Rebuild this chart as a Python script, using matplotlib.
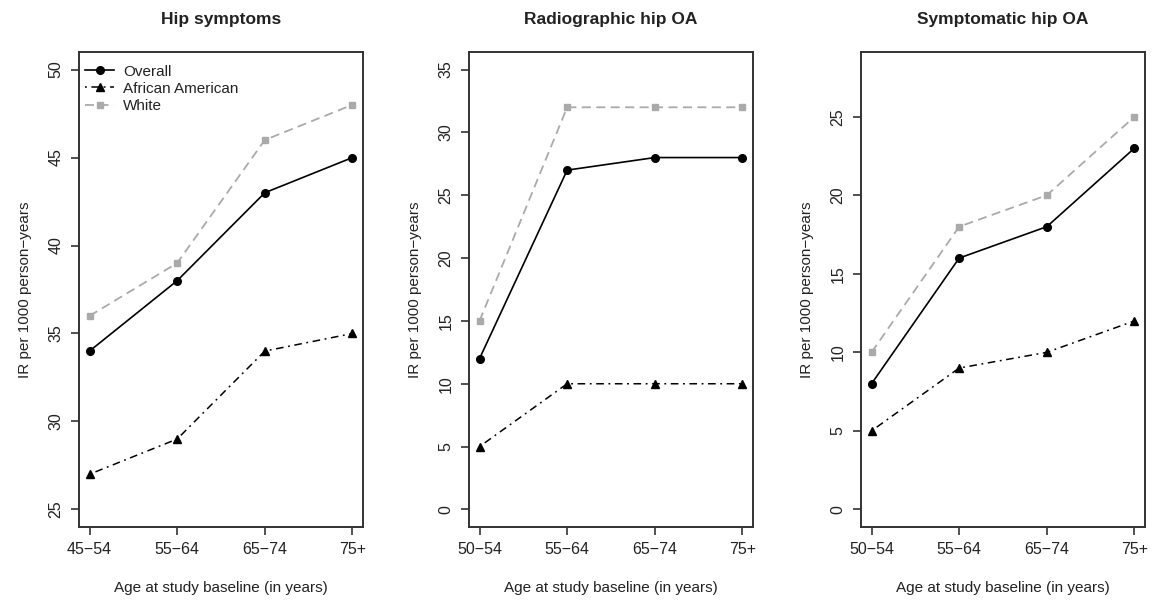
import matplotlib.pyplot as plt

plt.rcParams["font.family"] = ["Liberation Sans", "DejaVu Sans"]

# Data
titles = ["Hip symptoms", "Radiographic hip OA", "Symptomatic hip OA"]
age_labels_1 = ["45\u221254", "55\u221264", "65\u221274", "75+"]
age_labels_23 = ["50\u221254", "55\u221264", "65\u221274", "75+"]

overall_1 = [34, 38, 43, 45]
african_american_1 = [27, 29, 34, 35]
white_1 = [36, 39, 46, 48]

overall_2 = [12, 27, 28, 28]
african_american_2 = [5, 10, 10, 10]
white_2 = [15, 32, 32, 32]

overall_3 = [8, 16, 18, 23]
african_american_3 = [5, 9, 10, 12]
white_3 = [10, 18, 20, 25]

panels = [
    (titles[0], age_labels_1, overall_1, african_american_1, white_1, (25, 50), [25, 30, 35, 40, 45, 50]),
    (titles[1], age_labels_23, overall_2, african_american_2, white_2, (0, 35), [0, 5, 10, 15, 20, 25, 30, 35]),
    (titles[2], age_labels_23, overall_3, african_american_3, white_3, (0, 28), [0, 5, 10, 15, 20, 25]),
]

W, H = 1157, 604
fig = plt.figure(figsize=(W / 100, H / 100), dpi=100)

lefts = [79, 469, 861]
top, bottom = 52, 527
width = 284

grey = "#aaaaaa"
ink = "#222222"

for i, (title, labels, ov, aa, wh, (lo, hi), yticks) in enumerate(panels):
    ax = fig.add_axes([lefts[i] / W, 1 - bottom / H, width / W, (bottom - top) / H])
    x = list(range(1, len(labels) + 1))

    ax.plot(x, wh, color=grey, lw=1.3, linestyle=(0, (5, 3)), marker="s", ms=4.5,
            label="White", zorder=2)
    ax.plot(x, aa, color="black", lw=1.1, linestyle=(0, (1.2, 3, 5, 3)), marker="^", ms=5.5,
            label="African American", zorder=3)
    ax.plot(x, ov, color="black", lw=1.2, linestyle="-", marker="o", ms=5.5,
            label="Overall", zorder=4)

    # R-style 4% axis padding
    pad = (hi - lo) * 0.04
    ax.set_ylim(lo - pad, hi + pad)
    ax.set_xlim(1 - 0.12, 4 + 0.12)
    ax.set_xticks(x)
    ax.set_xticklabels(labels)
    ax.set_yticks(yticks)
    ax.set_yticklabels([str(v) for v in yticks], rotation=90, va="center")

    for s in ax.spines.values():
        s.set_color("#333333")
        s.set_linewidth(1.4)
    ax.tick_params(axis="both", direction="out", length=6, width=1.2, color="#333333",
                   labelsize=11.5, labelcolor=ink, pad=5)

    ax.set_title(title, fontsize=12.5, fontweight="bold", color=ink, pad=20)
    ax.set_xlabel("Age at study baseline (in years)", fontsize=11, color=ink, labelpad=17)
    ax.set_ylabel("IR per 1000 person\u2212years", fontsize=11, color=ink, labelpad=12)

    if i == 0:
        h, l = ax.get_legend_handles_labels()
        order = [2, 1, 0]
        ax.legend([h[k] for k in order], [l[k] for k in order], loc="upper left",
                  frameon=False, fontsize=11, handlelength=1.9, handletextpad=0.6,
                  labelspacing=0.2, borderaxespad=0.0, bbox_to_anchor=(0.0, 0.986),
                  labelcolor=ink)

fig.savefig("out.png", dpi=100)
